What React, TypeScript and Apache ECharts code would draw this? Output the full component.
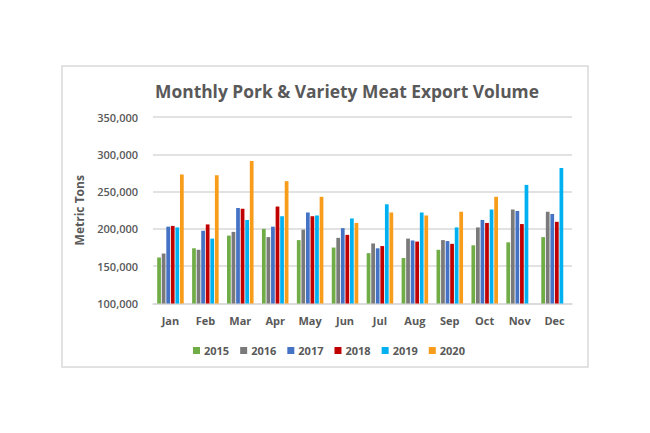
import React, { useEffect, useRef } from "react";
import * as echarts from "echarts";

const months = ["Jan", "Feb", "Mar", "Apr", "May", "Jun", "Jul", "Aug", "Sep", "Oct", "Nov", "Dec"];
const years = ["2015", "2016", "2017", "2018", "2019", "2020"];
const v2015 = [161700, 174000, 191000, 200000, 185000, 175000, 167500, 161000, 172000, 178000, 182000, 189000];
const v2016 = [167000, 172000, 196000, 189000, 199000, 188000, 180500, 187000, 185000, 202000, 226000, 223000];
const v2017 = [203000, 197500, 228000, 203000, 222000, 201000, 174000, 184500, 183700, 212000, 224000, 220000];
const v2018 = [204000, 206000, 227000, 230000, 217000, 192000, 177000, 183000, 180000, 208000, 206500, 209500];
const v2019 = [202000, 187000, 212000, 217000, 218000, 214000, 233000, 222000, 202000, 226000, 259000, 281600];
const v2020 = [273000, 272000, 291000, 264000, 243000, 208000, 222000, 218000, 223000, 243000, null, null];
const colors = ["#70AD47", "#7A7A7A", "#4472C4", "#C00000", "#00B0F0", "#F79C1B"];
const yTicks = [100000, 150000, 200000, 250000, 300000, 350000];

export default function App() {
  const ref = useRef<HTMLDivElement>(null);
  useEffect(() => {
    if (!ref.current) return;
    const chart = echarts.init(ref.current, null, { renderer: "svg" });
    const data = [v2015, v2016, v2017, v2018, v2019, v2020];
    const font = "'Open Sans', 'Noto Sans', sans-serif";
    chart.setOption({
      animation: false,
      backgroundColor: "#ffffff",
      color: colors,
      textStyle: { fontFamily: font },
      title: {
        text: "Monthly Pork & Variety Meat Export Volume",
        left: 342,
        textAlign: "center",
        top: 77,
        textStyle: { fontFamily: font, fontSize: 17.4, fontWeight: 700, color: "#595959" },
      },
      graphic: [
        {
          type: "rect",
          shape: { x: 62, y: 66, width: 526, height: 301 },
          style: { fill: "none", stroke: "#d9d9d9", lineWidth: 1.5 },
          silent: true,
        },
      ],
      legend: {
        data: years,
        top: 340,
        left: 188,
        itemWidth: 7,
        itemHeight: 7,
        itemGap: 11,
        icon: "rect",
        textStyle: { fontFamily: font, fontSize: 11, fontWeight: 700, color: "#595959", padding: [0, 0, 0, -1] },
      },
      grid: { left: 153, right: 650 - 572, top: 117, bottom: 433 - 303.5, containLabel: false },
      xAxis: {
        type: "category",
        data: months,
        axisTick: { show: false },
        axisLine: { lineStyle: { color: "#d9d9d9", width: 1.5 } },
        axisLabel: { color: "#595959", fontSize: 11, fontWeight: 700, fontFamily: font, margin: 11 },
      },
      yAxis: {
        type: "value",
        min: yTicks[0],
        max: yTicks[yTicks.length - 1],
        interval: 50000,
        name: "Metric Tons",
        nameLocation: "middle",
        nameGap: 68,
        nameTextStyle: { color: "#595959", fontSize: 12, fontWeight: 700, fontFamily: font },
        axisLabel: {
          color: "#595959",
          fontSize: 11,
          fontWeight: 600,
          fontFamily: font,
          margin: 15,
          formatter: (v: number) => v.toLocaleString("en-US"),
        },
        splitLine: { lineStyle: { color: "#d9d9d9", width: 1.5 } },
        axisLine: { show: false },
        axisTick: { show: false },
      },
      series: years.map((y, i) => ({
        name: y,
        type: "bar",
        data: data[i],
        barGap: "22%",
        barCategoryGap: "24%",
      })),
    });
    return () => chart.dispose();
  }, []);
  return (
    <div
      ref={ref}
      style={{ position: "fixed", left: 0, top: 0, width: 650, height: 433, background: "#fff" }}
    />
  );
}
